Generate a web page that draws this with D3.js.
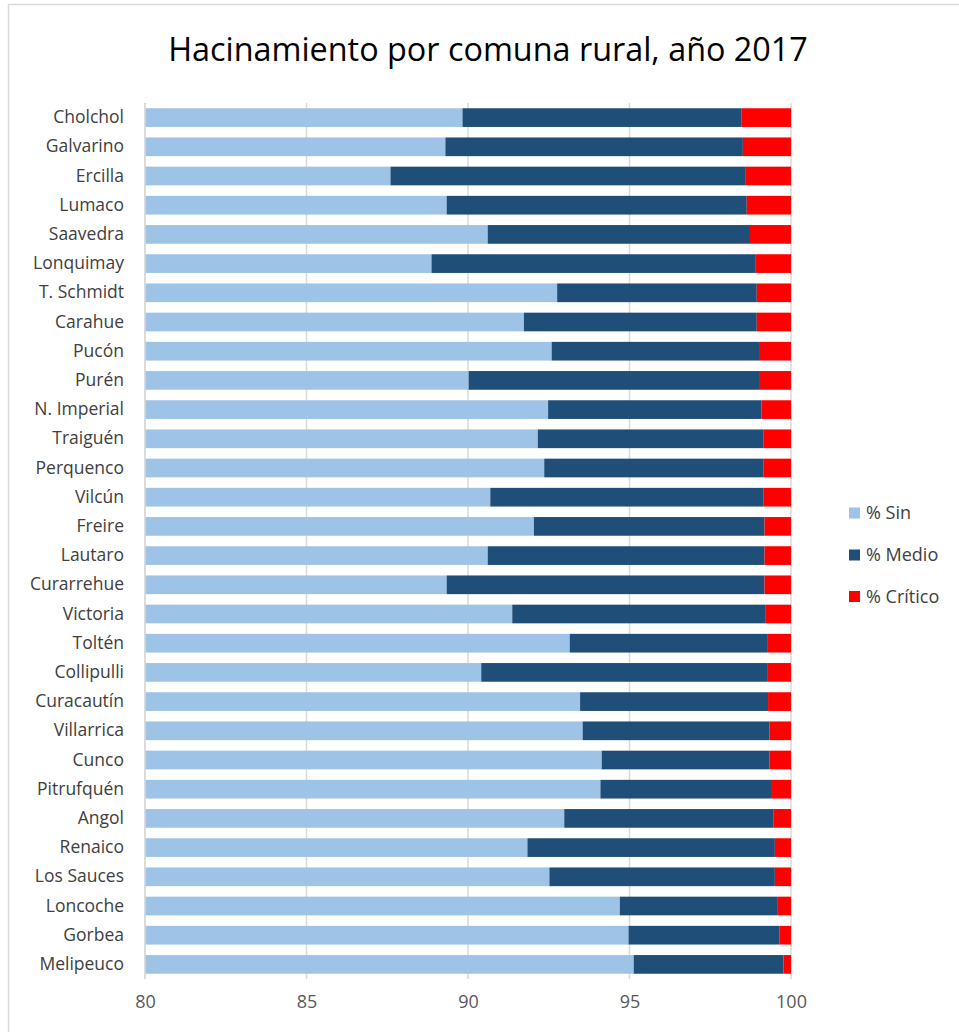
<!DOCTYPE html>
<html>
<head>
<meta charset="utf-8">
<script src="https://cdn.jsdelivr.net/npm/d3@7"></script>
<style>
  html, body { margin: 0; padding: 0; background: #fff; }
  svg { display: block; }
  text { font-family: "Open Sans", Lato, sans-serif; }
</style>
</head>
<body>
<svg id="chart" width="959" height="1032"></svg>
<script>
const comunas = ["Cholchol","Galvarino","Ercilla","Lumaco","Saavedra","Lonquimay","T. Schmidt","Carahue","Pucón","Purén","N. Imperial","Traiguén","Perquenco","Vilcún","Freire","Lautaro","Curarrehue","Victoria","Toltén","Collipulli","Curacautín","Villarrica","Cunco","Pitrufquén","Angol","Renaico","Los Sauces","Loncoche","Gorbea","Melipeuco"];
const pctSin = [89.83,89.30,87.60,89.34,90.61,88.87,92.76,91.73,92.59,90.02,92.48,92.16,92.36,90.69,92.04,90.61,89.34,91.37,93.15,90.41,93.47,93.55,94.14,94.10,92.98,91.84,92.52,94.70,94.97,95.13];
const pctMedio = [8.63,9.21,10.98,9.29,8.12,10.02,6.18,7.21,6.42,8.99,6.61,6.98,6.78,8.45,7.14,8.57,9.84,7.85,6.11,8.85,5.82,5.78,5.19,5.31,6.47,7.66,6.98,4.87,4.68,4.64];
const pctCritico = [1.54,1.49,1.42,1.37,1.27,1.11,1.06,1.06,0.99,0.99,0.91,0.86,0.86,0.86,0.82,0.82,0.82,0.78,0.74,0.74,0.71,0.67,0.67,0.59,0.55,0.50,0.50,0.43,0.35,0.23];
const seriesNames = ["% Sin","% Medio","% Crítico"];
const seriesColors = ["#9DC3E6","#1F4E79","#FF0000"];
const xTicks = [80,85,90,95,100];
const titleText = "Hacinamiento por comuna rural, año 2017";

const svg = d3.select("#chart");

// chart area border
svg.append("rect").attr("x", 8.5).attr("y", 4.5).attr("width", 1000).attr("height", 1100)
  .attr("fill", "none").attr("stroke", "#d9d9d9").attr("stroke-width", 1.5);

const plot = {left: 145, right: 791, top: 103, bottom: 979};

const x = d3.scaleLinear().domain([80, 100]).range([plot.left, plot.right]);
const y = d3.scaleBand().domain(comunas).range([plot.top, plot.bottom]).paddingInner(0.36).paddingOuter(0.18);

// gridlines
svg.append("g").selectAll("line").data(xTicks).join("line")
  .attr("x1", d => x(d)).attr("x2", d => x(d))
  .attr("y1", plot.top).attr("y2", plot.bottom)
  .attr("stroke", "#d9d9d9").attr("stroke-width", 1.5);

// stacked data
const rows = comunas.map((c, i) => ({comuna: c, s0: pctSin[i], s1: pctMedio[i], s2: pctCritico[i]}));
const stacked = d3.stack().keys(["s0","s1","s2"])(rows);

svg.append("g").selectAll("g").data(stacked).join("g")
  .attr("fill", (d, i) => seriesColors[i])
  .selectAll("rect").data(d => d).join("rect")
  .attr("x", d => x(Math.max(80, d[0])))
  .attr("width", d => x(d[1]) - x(Math.max(80, d[0])))
  .attr("y", d => y(d.data.comuna))
  .attr("height", y.bandwidth());

// left axis line
svg.append("line").attr("x1", plot.left).attr("x2", plot.left)
  .attr("y1", plot.top).attr("y2", plot.bottom)
  .attr("stroke", "#d9d9d9").attr("stroke-width", 1.5);

// y axis labels
const gy = svg.append("g").attr("transform", `translate(${plot.left},0)`)
  .call(d3.axisLeft(y).tickSize(0).tickPadding(21));
gy.select(".domain").remove();
gy.selectAll("text").attr("font-size", 17.5).attr("fill", "#404040")
  .attr("font-family", "'Open Sans', Lato, sans-serif");

// x axis labels
const gx = svg.append("g").attr("transform", `translate(0,${plot.bottom})`)
  .call(d3.axisBottom(x).tickValues(xTicks).tickSize(0).tickPadding(16));
gx.select(".domain").remove();
gx.selectAll("text").attr("font-size", 18).attr("fill", "#595959")
  .attr("font-family", "'Open Sans', Lato, sans-serif");

// title, sized to span the same width as the reference
const title = svg.append("text").attr("x", 488).attr("y", 61).attr("text-anchor", "middle")
  .attr("font-size", 28).attr("fill", "#000").text(titleText);
const w = title.node().getComputedTextLength();
title.attr("font-size", 28 * 640 / w);

// legend
const legendY = [513, 555, 596.5];
const lg = svg.append("g");
seriesNames.forEach((n, i) => {
  lg.append("rect").attr("x", 849).attr("y", legendY[i] - 5.5).attr("width", 11).attr("height", 11)
    .attr("fill", seriesColors[i]);
  lg.append("text").attr("x", 866).attr("y", legendY[i]).attr("dy", "0.35em")
    .attr("font-size", 18).attr("fill", "#404040").text(n);
});
</script>
</body>
</html>
